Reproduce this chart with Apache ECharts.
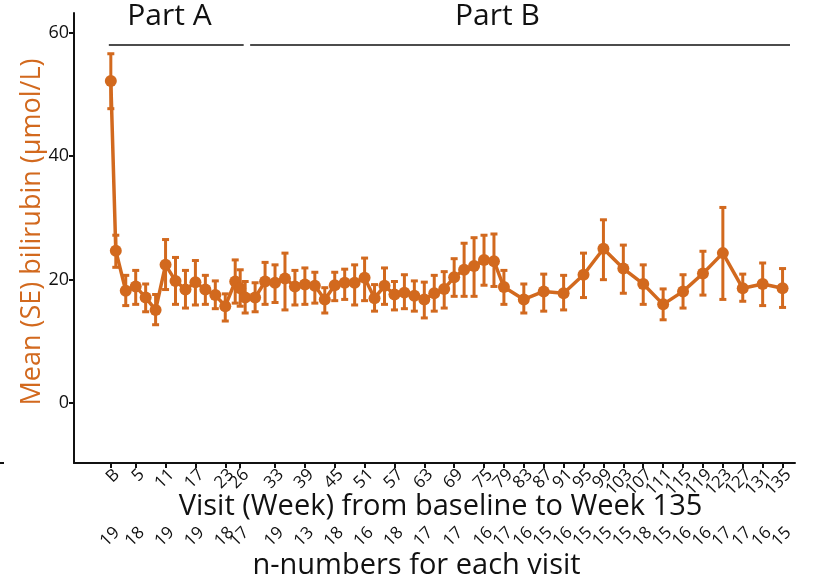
<!DOCTYPE html>
<html>
<head>
<meta charset="utf-8">
<script src="https://cdn.jsdelivr.net/npm/echarts@6/dist/echarts.min.js"></script>
<style>
html,body{margin:0;padding:0;background:#fff;}
#chart{width:821px;height:582px;}
</style>
</head>
<body>
<div id="chart"></div>
<script>
// ---- data ----
const weeks = [0,1,3,5,7,9,11,13,15,17,19,21,23,25,26,27,29,31,33,35,37,39,41,43,45,47,49,51,53,55,57,59,61,63,65,67,69,71,73,75,77,79,83,87,91,95,99,103,107,111,115,119,123,127,131,135];
const meanVals = [52.2,24.7,18.2,18.9,17.1,15.1,22.4,19.8,18.4,19.6,18.4,17.5,15.7,19.7,18.6,17.1,17.1,19.7,19.5,20.2,18.9,19.2,19.0,16.8,19.1,19.5,19.5,20.3,17.0,19.0,17.6,17.9,17.4,16.8,17.8,18.5,20.4,21.6,22.2,23.2,23.0,18.8,16.8,18.1,17.8,20.8,25.0,21.8,19.3,16.0,18.1,21.0,24.3,18.6,19.3,18.6];
const upperVals = [56.6,27.2,20.7,21.5,19.3,17.6,26.5,23.6,21.5,23.1,20.7,19.8,17.7,23.2,21.6,19.7,19.5,22.8,22.4,24.3,21.5,21.9,21.2,18.7,21.2,21.7,22.4,23.5,19.2,21.9,19.7,20.8,19.8,19.6,20.7,21.3,23.4,25.9,26.8,27.2,27.4,21.5,19.3,20.9,20.7,24.3,29.7,25.6,22.4,18.5,20.8,24.6,31.7,20.9,22.7,21.8];
const lowerVals = [47.7,22.0,15.8,16.0,14.8,12.7,18.4,16.0,15.4,15.9,16.0,15.3,13.3,16.2,15.7,14.6,14.8,16.0,16.3,15.1,15.9,16.0,16.2,14.6,16.6,16.8,15.9,16.6,14.9,16.0,15.1,15.3,14.9,13.8,14.9,15.4,17.3,17.3,17.3,19.1,18.9,16.0,14.6,14.9,15.1,17.1,20.0,17.8,16.0,13.5,15.4,17.5,16.8,16.5,15.8,15.5];
const tickWeeks = [0,5,11,17,23,26,33,39,45,51,57,63,69,75,79,83,87,91,95,99,103,107,111,115,119,123,127,131,135];
const tickLabels = ['B','5','11','17','23','26','33','39','45','51','57','63','69','75','79','83','87','91','95','99','103','107','111','115','119','123','127','131','135'];
const nNumbers = ['19','18','19','19','18','17','19','13','18','16','18','17','17','16','17','16','15','16','15','15','15','18','15','16','16','17','17','16','15'];
const yTicks = [0,20,40,60];
const partNames = ['Part A','Part B'];
const partRanges = [[-0.4,26.7],[28.0,136.5]];
const partLabelWeeks = [11.8,77.7];

const ORANGE = '#D2691E';
const FONT = 'Open Sans';
const X_MIN = -7.4, X_MAX = 137.5;

const chart = echarts.init(document.getElementById('chart'), null, {renderer:'canvas'});

const lineData = weeks.map((w,i)=>[w, meanVals[i]]);
const errData = weeks.map((w,i)=>[w, lowerVals[i], upperVals[i]]);

// padded label value lists: a hidden dummy at each end keeps ECharts from
// dropping the first/last real label in its min/max overlap check
const labelValues = [X_MIN + 0.1].concat(tickWeeks, [X_MAX - 0.1]);
const lookup = (arr)=>(v)=>{const k=tickWeeks.indexOf(v); return k>=0?arr[k]:'';};

const labelAxis = (labels, offset, extra)=>Object.assign({
  type:'value', min:X_MIN, max:X_MAX, position:'bottom', offset:offset,
  axisLine:{show:false}, axisTick:{show:false}, splitLine:{show:false},
  axisLabel:{show:true, rotate:45, align:'right', verticalAlign:'top', margin:3,
    fontFamily:FONT, fontSize:17, color:'#111',
    showMinLabel:false, showMaxLabel:false, hideOverlap:false,
    customValues:labelValues, formatter:lookup(labels)}
}, extra||{});

const partLineY = 58.1, partTextY = 62.6;

const option = {
  animation:false,
  backgroundColor:'#fff',
  grid:{left:74, top:13, width:721, height:450, containLabel:false, outerBoundsMode:'none'},
  xAxis:[{
    type:'value', min:X_MIN, max:X_MAX, position:'bottom',
    name:'Visit (Week) from baseline to Week 135',
    nameLocation:'middle', nameGap:29, nameMoveOverlap:false,
    nameTextStyle:{fontFamily:FONT, fontSize:29, color:'#111', padding:[0,0,0,12]},
    axisLine:{show:true, onZero:false, lineStyle:{color:'#111', width:2}},
    axisTick:{show:true, length:5, lineStyle:{color:'#111', width:2}, customValues:tickWeeks},
    axisLabel:{show:false},
    splitLine:{show:false}
  },
  labelAxis(tickLabels, 0),
  labelAxis(nNumbers, 58, {
    name:'n-numbers for each visit',
    nameLocation:'middle', nameGap:30, nameMoveOverlap:false,
    nameTextStyle:{fontFamily:FONT, fontSize:29, color:'#111', padding:[0,36,0,0]}
  })],
  yAxis:{
    type:'value', min:-9.7, max:63.2,
    name:'Mean (SE) bilirubin (µmol/L)', nameLocation:'middle', nameGap:28, nameMoveOverlap:false,
    nameTextStyle:{fontFamily:FONT, fontSize:27, color:ORANGE, padding:[0,0,0,12]},
    axisLine:{show:true, onZero:false, lineStyle:{color:'#111', width:2}},
    axisTick:{show:true, length:5, lineStyle:{color:'#111', width:2}, customValues:yTicks},
    axisLabel:{show:true, margin:5, fontFamily:FONT, fontSize:18, color:'#111', customValues:yTicks},
    splitLine:{show:false}
  },
  series:[{
    type:'custom', xAxisIndex:0, yAxisIndex:0, z:2,
    data:errData,
    renderItem:(params, api)=>{
      const x = api.value(0);
      const lo = api.coord([x, api.value(1)]);
      const hi = api.coord([x, api.value(2)]);
      const cw = 3.5;
      const st = {stroke:ORANGE, lineWidth:3};
      return {type:'group', children:[
        {type:'line', shape:{x1:lo[0],y1:lo[1],x2:hi[0],y2:hi[1]}, style:st},
        {type:'line', shape:{x1:lo[0]-cw,y1:lo[1],x2:lo[0]+cw,y2:lo[1]}, style:st},
        {type:'line', shape:{x1:hi[0]-cw,y1:hi[1],x2:hi[0]+cw,y2:hi[1]}, style:st}
      ]};
    }
  },{
    type:'line', xAxisIndex:0, yAxisIndex:0, z:3,
    data:lineData,
    symbol:'circle', symbolSize:12, showSymbol:true,
    lineStyle:{color:ORANGE, width:3.5},
    itemStyle:{color:ORANGE},
    markLine:{
      silent:true, symbol:['none','none'],
      lineStyle:{color:'#111', width:1.5, type:'solid'},
      label:{show:false},
      data: partRanges.map(r=>[{coord:[r[0],partLineY]},{coord:[r[1],partLineY]}])
    },
    markPoint:{
      silent:true, symbol:'circle', symbolSize:0,
      label:{show:true, position:'inside', formatter:'{b}', fontFamily:FONT, fontSize:30, color:'#111'},
      data: partNames.map((n,i)=>({name:n, coord:[partLabelWeeks[i], partTextY]}))
    }
  }],
  graphic:[{type:'line', shape:{x1:0,y1:463,x2:4,y2:463}, style:{stroke:'#111', lineWidth:2}}]
};
chart.setOption(option);
</script>
</body>
</html>
